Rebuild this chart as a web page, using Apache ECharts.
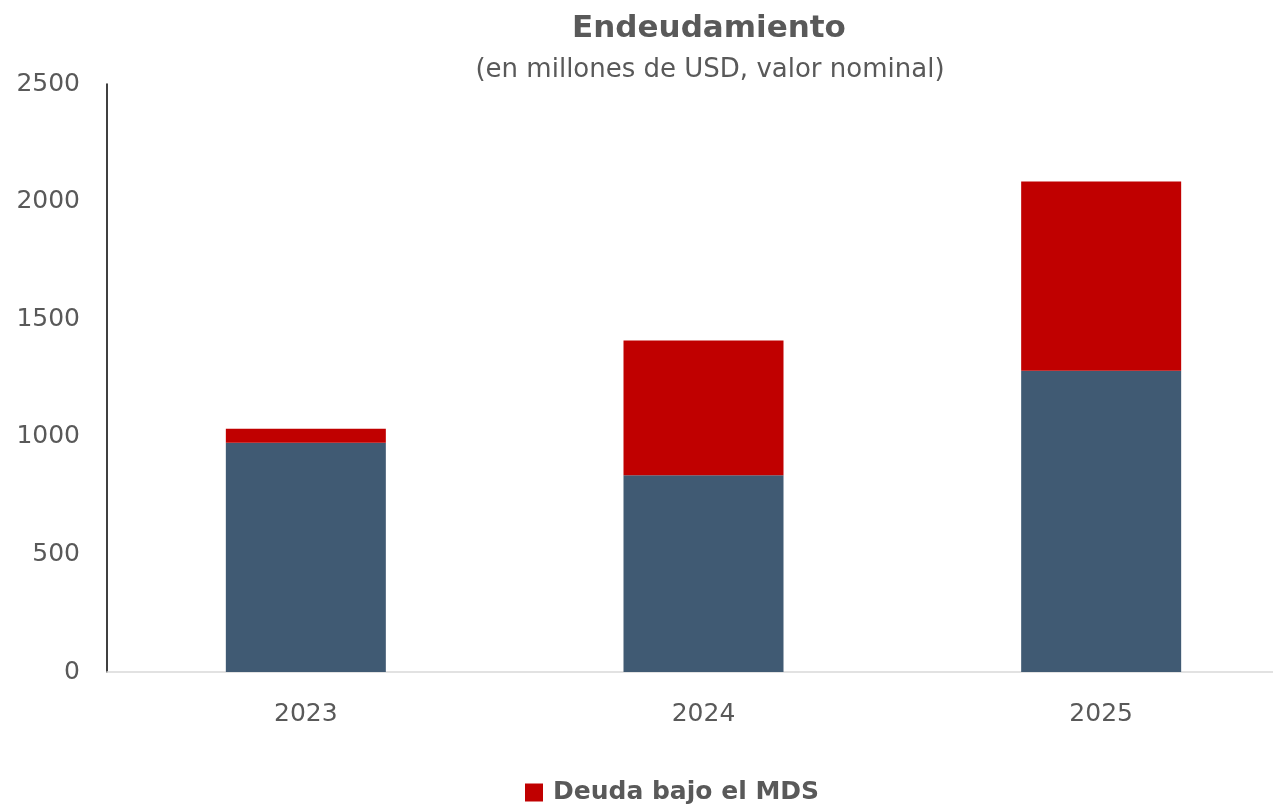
<!DOCTYPE html>
<html>
<head>
<meta charset="utf-8">
<script src="https://cdn.jsdelivr.net/npm/echarts@6/dist/echarts.min.js"></script>
<style>
  html, body { margin: 0; padding: 0; background: #fff; overflow: hidden; }
  /* the plot runs a little past the right edge in the original */
  #chart { width: 1300px; height: 808px; }
</style>
</head>
<body>
<div id="chart"></div>
<script>
// datos (millones de USD)
const years = ['2023', '2024', '2025'];
const otraDeuda = [975, 836, 1281];
const deudaMDS = [59, 573, 804];
const yTicks = [0, 500, 1000, 1500, 2000, 2500];

const font = '"DejaVu Sans", sans-serif';
const gris = '#595959';

const chart = echarts.init(document.getElementById('chart'));
chart.setOption({
    animation: false,
    title: [
        {
            text: 'Endeudamiento',
            left: 704,
            top: 8,
            textAlign: 'center',
            textStyle: { fontFamily: font, fontSize: 31, fontWeight: 'bold', color: gris }
        },
        {
            text: '(en millones de USD, valor nominal)',
            left: 705,
            top: 52,
            textAlign: 'center',
            textStyle: { fontFamily: font, fontSize: 26, fontWeight: 'normal', color: gris }
        }
    ],
    legend: {
        data: ['Deuda bajo el MDS'],
        left: 520,
        top: 775,
        icon: 'rect',
        itemWidth: 18,
        itemHeight: 18,
        itemGap: 10,
        textStyle: {
            fontFamily: font,
            fontSize: 25,
            fontWeight: 'bold',
            color: gris,
            padding: [0, 0, 0, 5]
        }
    },
    grid: {
        left: 107,
        top: 84,
        right: 0,
        height: 588,
        containLabel: false
    },
    xAxis: {
        type: 'category',
        data: years,
        axisLine: { show: true, lineStyle: { color: '#d9d9d9', width: 1.5 } },
        axisTick: { show: false },
        axisLabel: { margin: 30, fontFamily: font, fontSize: 25, color: gris }
    },
    yAxis: {
        type: 'value',
        min: 0,
        max: yTicks[yTicks.length - 1],
        interval: 500,
        axisLine: { show: true, lineStyle: { color: '#000', width: 1.5 } },
        axisTick: { show: false },
        splitLine: { show: false },
        axisLabel: {
            margin: 27,
            fontFamily: font,
            fontSize: 25,
            color: gris,
            formatter: (v) => String(v)
        }
    },
    series: [
        {
            name: 'Otra deuda',
            type: 'bar',
            stack: 'total',
            barWidth: 160,
            itemStyle: { color: '#405a73' },
            data: otraDeuda
        },
        {
            name: 'Deuda bajo el MDS',
            type: 'bar',
            stack: 'total',
            barWidth: 160,
            itemStyle: { color: '#c00000' },
            data: deudaMDS
        }
    ]
});
</script>
</body>
</html>
